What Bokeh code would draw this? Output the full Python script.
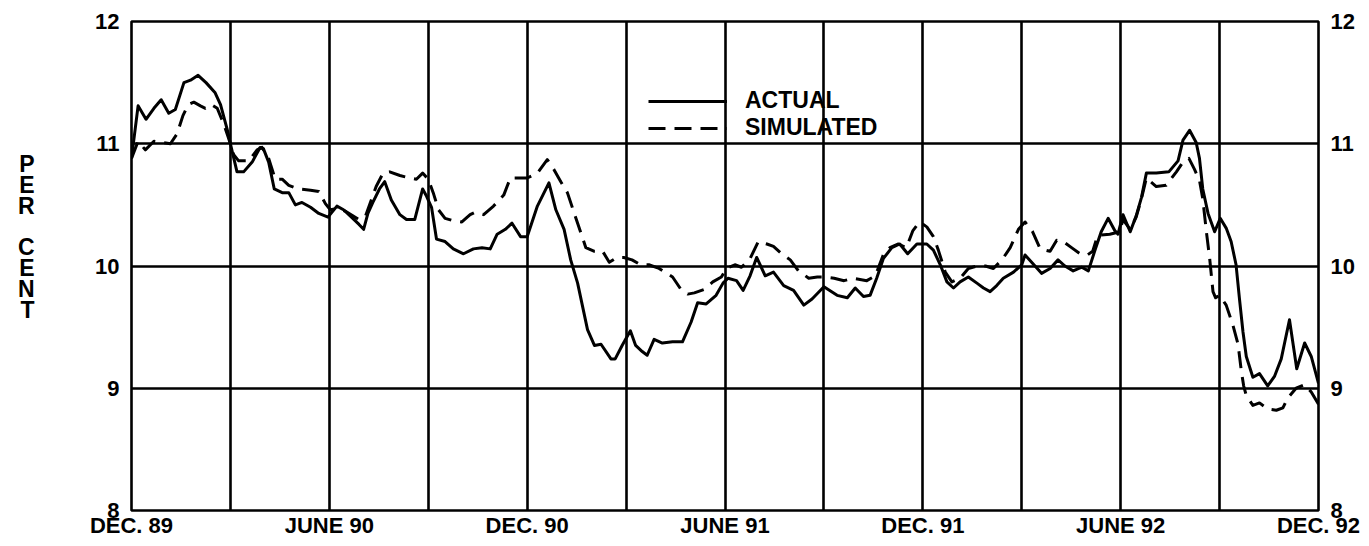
from bokeh.plotting import figure
from bokeh.models import Range1d, FixedTicker, LinearAxis, Legend, LegendItem
from bokeh.embed import file_html
from bokeh.resources import INLINE

# ---- data (months after December 1989) ----
x_ticks = [0, 6, 12, 18, 24, 30, 36]
x_tick_labels = ["DEC. 89", "JUNE 90", "DEC. 90", "JUNE 91", "DEC. 91", "JUNE 92", "DEC. 92"]
grid_months = [0, 3, 6, 9, 12, 15, 18, 21, 24, 27, 30, 33, 36]
y_ticks = [8, 9, 10, 11, 12]
y_title_letters = ["P", "E", "R", "C", "E", "N", "T"]

actual_months = [
    0.0, 0.2, 0.44, 0.68, 0.9, 1.13, 1.33, 1.59, 1.79, 2.02, 2.26, 2.53, 2.7, 2.9, 3.0,
    3.13, 3.2, 3.4, 3.66, 3.9, 4.0, 4.16, 4.33, 4.57, 4.77, 4.97, 5.17, 5.43, 5.68, 5.96,
    6.23, 6.43, 6.67, 6.9, 7.04, 7.17, 7.32, 7.52, 7.68, 7.88, 8.14, 8.34, 8.59, 8.83, 8.95,
    9.1, 9.25, 9.51, 9.76, 10.07, 10.37, 10.63, 10.88, 11.09, 11.34, 11.54, 11.8, 12.0,
    12.31, 12.66, 12.87, 13.12, 13.32, 13.53, 13.83, 14.04, 14.24, 14.54, 14.67, 14.88,
    15.13, 15.29, 15.49, 15.64, 15.85, 16.1, 16.41, 16.71, 16.97, 17.17, 17.43, 17.73,
    17.94, 18.09, 18.35, 18.55, 18.76, 18.96, 19.22, 19.47, 19.78, 20.08, 20.39, 20.64,
    21.0, 21.4, 21.71, 21.95, 22.2, 22.4, 22.6, 22.8, 23.06, 23.3, 23.54, 23.82, 24.12,
    24.32, 24.53, 24.73, 24.93, 25.13, 25.38, 25.64, 25.84, 26.04, 26.24, 26.44, 26.75,
    27.0, 27.1, 27.3, 27.6, 27.86, 28.1, 28.31, 28.56, 28.82, 29.02, 29.21, 29.41, 29.62,
    29.82, 29.92, 30.07, 30.29, 30.47, 30.63, 30.78, 31.08, 31.46, 31.74, 31.89, 32.09,
    32.29, 32.39, 32.49, 32.65, 32.85, 33.02, 33.2, 33.35, 33.5, 33.6, 33.71, 33.81, 34.01,
    34.21, 34.46, 34.67, 34.87, 35.12, 35.34, 35.58, 35.78, 36.0]
actual_values = [
    10.88, 11.31, 11.20, 11.29, 11.36, 11.25, 11.28, 11.50, 11.52, 11.56, 11.50, 11.42, 11.32, 11.12, 11.0,
    10.85, 10.77, 10.77, 10.85, 10.97, 10.96, 10.85, 10.63, 10.60, 10.60, 10.50, 10.52, 10.48, 10.43, 10.40,
    10.49, 10.46, 10.40, 10.34, 10.30, 10.43, 10.52, 10.63, 10.69, 10.54, 10.42, 10.38, 10.38, 10.63, 10.57,
    10.48, 10.22, 10.20, 10.14, 10.10, 10.14, 10.15, 10.14, 10.26, 10.30, 10.35, 10.24, 10.24,
    10.49, 10.68, 10.46, 10.30, 10.05, 9.86, 9.48, 9.35, 9.36, 9.24, 9.24, 9.35,
    9.47, 9.35, 9.30, 9.27, 9.40, 9.37, 9.38, 9.38, 9.54, 9.70, 9.69, 9.76,
    9.86, 9.90, 9.88, 9.80, 9.92, 10.07, 9.92, 9.95, 9.84, 9.80, 9.68, 9.73,
    9.83, 9.76, 9.74, 9.82, 9.75, 9.76, 9.90, 10.06, 10.15, 10.18, 10.10, 10.18, 10.18,
    10.13, 10.01, 9.87, 9.82, 9.87, 9.91, 9.86, 9.82, 9.79, 9.84, 9.90, 9.95,
    10.01, 10.09, 10.03, 9.94, 9.98, 10.05, 10.0, 9.96, 9.99, 9.96, 10.12, 10.28, 10.39,
    10.29, 10.26, 10.42, 10.28, 10.41, 10.56, 10.76, 10.76, 10.77, 10.86, 11.03, 11.11,
    11.01, 10.88, 10.63, 10.43, 10.28, 10.39, 10.31, 10.20, 10.01, 9.74, 9.46, 9.26, 9.09,
    9.12, 9.02, 9.10, 9.24, 9.56, 9.16, 9.37, 9.26, 9.04]

simulated_months = [
    0.0, 0.2, 0.42, 0.68, 0.93, 1.18, 1.38, 1.56, 1.72, 1.89, 2.09, 2.24, 2.42, 2.6, 2.8,
    2.95, 3.1, 3.25, 3.56, 3.81, 3.96, 4.16, 4.36, 4.57, 4.77, 5.07, 5.43, 5.68, 5.88, 6.03,
    6.23, 6.48, 6.9, 7.1, 7.42, 7.63, 7.83, 8.14, 8.44, 8.64, 8.83, 9.0, 9.15, 9.31, 9.51,
    9.76, 10.02, 10.27, 10.42, 10.68, 10.98, 11.29, 11.49, 11.7, 12.0, 12.31, 12.61, 12.81,
    13.02, 13.22, 13.43, 13.63, 13.78, 14.04, 14.29, 14.49, 14.72, 14.93, 15.18, 15.44,
    15.69, 16.0, 16.41, 16.66, 16.87, 17.07, 17.38, 17.63, 17.89, 18.04, 18.3, 18.5, 18.76,
    19.01, 19.27, 19.47, 19.72, 19.98, 20.23, 20.54, 20.8, 21.05, 21.31, 21.61, 21.9, 22.3,
    22.56, 22.8, 23.0, 23.26, 23.5, 23.7, 23.9, 24.12, 24.32, 24.47, 24.68, 24.88, 25.13,
    25.38, 25.64, 25.9, 26.14, 26.4, 26.65, 26.9, 27.1, 27.33, 27.56, 27.86, 28.06, 28.26,
    28.51, 28.77, 28.99, 29.15, 29.3, 29.67, 29.97, 30.07, 30.29, 30.47, 30.63, 30.78, 31.08,
    31.38, 31.69, 31.89, 32.07, 32.24, 32.39, 32.49, 32.6, 32.7, 32.8, 32.88, 33.0, 33.2,
    33.4, 33.56, 33.66, 33.73, 33.81, 34.01, 34.21, 34.46, 34.72, 34.92, 35.07, 35.32, 35.58,
    35.78, 36.0]
simulated_values = [
    10.88, 11.02, 10.95, 11.02, 11.01, 11.0, 11.08, 11.23, 11.32, 11.34, 11.31, 11.29, 11.32, 11.29, 11.16,
    11.04, 10.91, 10.86, 10.86, 10.95, 10.97, 10.88, 10.71, 10.71, 10.66, 10.63, 10.62, 10.61, 10.51, 10.46,
    10.47, 10.45, 10.38, 10.41, 10.65, 10.76, 10.77, 10.74, 10.72, 10.71, 10.76, 10.71, 10.60, 10.46, 10.39,
    10.37, 10.36, 10.42, 10.44, 10.42, 10.49, 10.58, 10.72, 10.72, 10.72, 10.76, 10.87, 10.79,
    10.69, 10.60, 10.43, 10.27, 10.15, 10.12, 10.12, 10.03, 10.07, 10.07, 10.05, 10.01,
    10.01, 9.98, 9.91, 9.81, 9.77, 9.78, 9.81, 9.87, 9.91, 9.98, 10.01, 9.99, 10.06,
    10.20, 10.18, 10.16, 10.10, 10.05, 9.96, 9.90, 9.91, 9.91, 9.90, 9.88, 9.90, 9.88,
    9.92, 10.09, 10.15, 10.18, 10.15, 10.29, 10.36, 10.32, 10.24, 10.13, 9.95, 9.87, 9.90,
    9.98, 10.0, 10.0, 9.98, 10.05, 10.15, 10.30, 10.36, 10.28, 10.14, 10.12, 10.21, 10.20,
    10.15, 10.10, 10.09, 10.12, 10.25, 10.26, 10.28, 10.38, 10.30, 10.40, 10.55, 10.72, 10.65,
    10.66, 10.77, 10.85, 10.88, 10.79, 10.70, 10.55, 10.28, 10.06, 9.79, 9.74, 9.76, 9.68,
    9.52, 9.36, 9.14, 9.02, 8.94, 8.86, 8.88, 8.83, 8.82, 8.84, 8.92, 9.0, 9.03,
    8.97, 8.87]

FONT = "Liberation Sans"

p = figure(width=1361, height=540,
           x_range=Range1d(x_ticks[0], x_ticks[-1]), y_range=Range1d(y_ticks[0], y_ticks[-1]),
           output_backend="svg", toolbar_location=None,
           min_border_left=131, min_border_right=43, min_border_top=21, min_border_bottom=28)
p.background_fill_color = "white"
p.border_fill_color = "white"
p.outline_line_color = "black"
p.outline_line_width = 2.6

p.xgrid.ticker = FixedTicker(ticks=grid_months)
p.ygrid.ticker = FixedTicker(ticks=y_ticks)
for g in (p.xgrid, p.ygrid):
    g.grid_line_color = "black"
    g.grid_line_width = 2.6
    g.grid_line_alpha = 1.0

right_axis = LinearAxis()
p.add_layout(right_axis, "right")

# stacked "PER CENT" title drawn as a second, label-only left axis
title_rows = [0, 1, 2, 4, 5, 6, 7]
title_ticks = [round(10.835 - r * 0.1705, 4) for r in title_rows]
title_axis = LinearAxis(ticker=FixedTicker(ticks=title_ticks),
                        major_label_overrides=dict(zip(title_ticks, y_title_letters)))
p.add_layout(title_axis, "left")

p.xaxis.ticker = FixedTicker(ticks=x_ticks)
p.xaxis.major_label_overrides = dict(zip(x_ticks, x_tick_labels))
p.xaxis.major_label_standoff = 2
p.yaxis[0].ticker = FixedTicker(ticks=y_ticks)
right_axis.ticker = FixedTicker(ticks=y_ticks)
for ax in (p.yaxis[0], right_axis):
    ax.major_label_standoff = 12
title_axis.major_label_standoff = 58
for ax in p.xaxis + p.yaxis:
    ax.axis_line_color = None
    ax.major_tick_line_color = None
    ax.minor_tick_line_color = None
    ax.major_tick_out = 0
    ax.major_tick_in = 0
    ax.minor_tick_out = 0
    ax.minor_tick_in = 0
    ax.major_label_text_font = FONT
    ax.major_label_text_font_size = "22px"
    ax.major_label_text_font_style = "bold"
    ax.major_label_text_color = "black"
title_axis.major_label_text_font_size = "23px"

r_act = p.line(actual_months, actual_values, line_color="black", line_width=3, line_join="round")
r_sim = p.line(simulated_months, simulated_values, line_color="black", line_width=3,
               line_dash="17 9", line_join="round")

legend = Legend(items=[LegendItem(label="ACTUAL", renderers=[r_act]),
                       LegendItem(label="SIMULATED", renderers=[r_sim])],
                location=(517, 369), glyph_width=79, glyph_height=20, label_height=20,
                label_standoff=18, spacing=0, padding=0, margin=0,
                border_line_alpha=0, background_fill_alpha=0,
                label_text_font=FONT, label_text_font_size="23px", label_text_font_style="bold",
                label_text_color="black")
p.add_layout(legend)

open("out.html", "w").write(file_html(p, INLINE))
